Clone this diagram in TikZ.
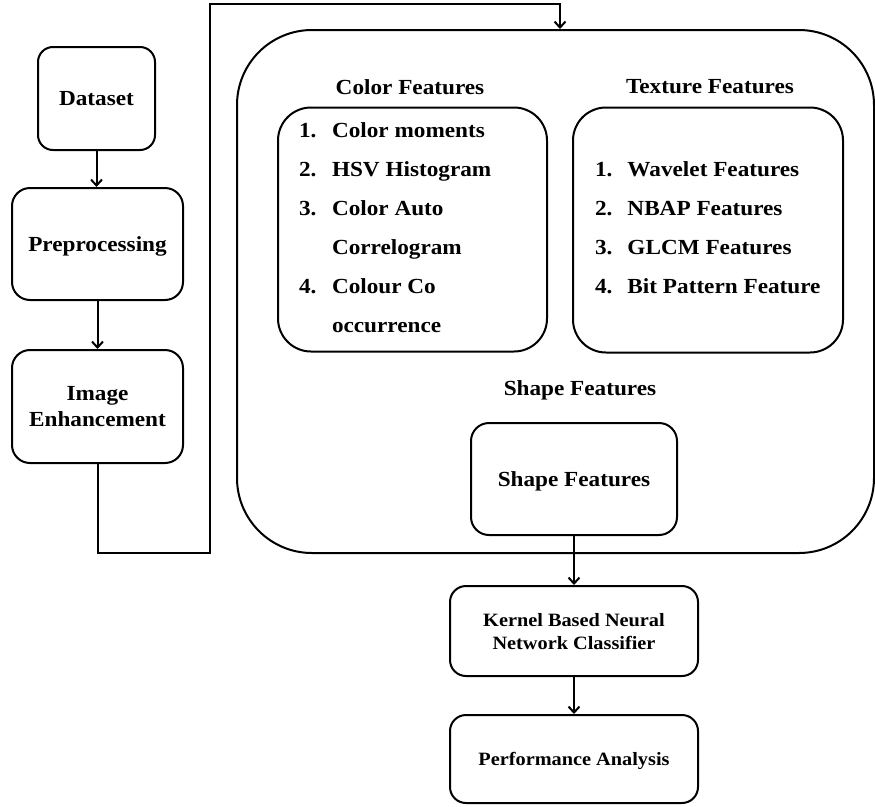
\documentclass[tikz,border=0pt]{standalone}
\usepackage{fontspec}
\setmainfont{Liberation Serif}[FakeStretch=1.08]
\usetikzlibrary{arrows.meta}
\begin{document}
\begin{tikzpicture}[x=1pt,y=-1pt,line width=2pt,
    font=\fontsize{21.5}{25.5}\selectfont\bfseries,
    box/.style={draw,rounded corners=#1,align=center,inner sep=0pt,text depth=0pt},
    box/.default=16pt,
    small/.style={font=\fontsize{18.8}{23}\selectfont\bfseries},
    title/.style={inner sep=0pt},
    item/.style={anchor=base west,inner sep=0pt},
    flow/.style={-{Straight Barb[length=6pt,width=11pt]}}]
\useasboundingbox (0,0) rectangle (875,806);
% outer feature block
\node[box=75pt,minimum width=637,minimum height=523] (main) at (555.5,291.5) {};
% left column
\node[box=15pt,minimum width=117,minimum height=103] (dataset) at (96.5,98.5) {Dataset};
\node[box=18pt,minimum width=171,minimum height=112] (prep) at (97.5,244) {Preprocessing};
\node[box=18pt,minimum width=171,minimum height=113] (enh) at (97.5,406.5) {Image\\Enhancement};
% feature groups
\node[title] (coltitle) at (410,87) {Color Features};
\node[box=33pt,minimum width=269,minimum height=244] (colbox) at (412.5,229.5) {};
\foreach \n/\txt [count=\i, evaluate=\i as \yy using 98+39*\i] in
    {1./Color moments, 2./HSV Histogram, 3./Color Auto, /Correlogram, 4./Colour Co, /occurrence}
  \node[item] (col\i) at (298,\yy) {\makebox[33pt][l]{\n}\txt};
\node[title] (textitle) at (710,87) {Texture Features};
\node[box=33pt,minimum width=270,minimum height=245] (texbox) at (708,230) {};
\foreach \n/\txt [count=\i, evaluate=\i as \yy using 137+39*\i] in
    {1./Wavelet Features, 2./NBAP Features, 3./GLCM Features, 4./Bit Pattern Feature}
  \node[item] (tex\i) at (594,\yy) {\makebox[32.5pt][l]{\n}\txt};
\node[title] (shptitle) at (580,390) {Shape Features};
\node[box=18pt,minimum width=206,minimum height=112] (shpbox) at (574,479) {Shape Features};
% classifier
\node[box,small,minimum width=248,minimum height=90] (kernel) at (574,631) {Kernel Based Neural\\Network Classifier};
\node[box,small,minimum width=248,minimum height=88] (perf) at (574,759) {Performance Analysis};
% connectors
\coordinate (turnlow) at (210,553);
\coordinate (turnhigh) at (560,4);
\draw[flow] (dataset.south) -- (dataset.south |- prep.north);
\draw[flow] (prep) -- (enh);
\draw[flow] (enh.south) |- (turnlow) -- (turnlow |- turnhigh) -- (turnhigh) -- (turnhigh |- main.north);
\draw[flow] (shpbox) -- (kernel);
\draw[flow] (kernel) -- (perf);
\end{tikzpicture}
\end{document}
